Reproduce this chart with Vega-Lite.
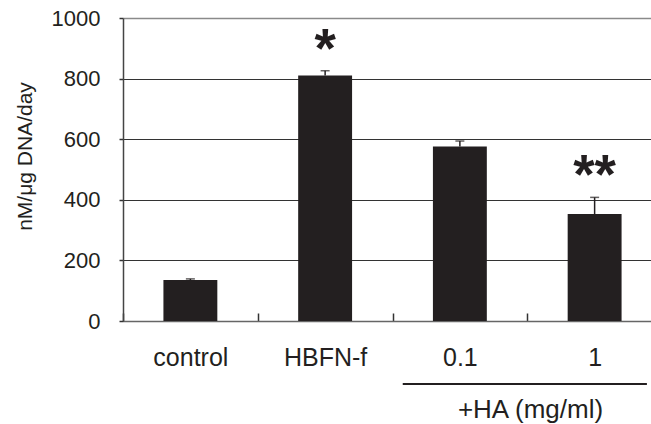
{
  "$schema": "https://vega.github.io/schema/vega-lite/v6.json",
  "width": 528,
  "height": 303,
  "autosize": {"type": "none"},
  "padding": {"left": 123, "top": 18, "right": 0, "bottom": 103},
  "config": {"view": {"stroke": null}, "font": "Liberation Sans"},
  "data": {"values": [
    {"group": "control", "value": 135, "upper": 139, "sig": ""},
    {"group": "HBFN-f", "value": 810, "upper": 826, "sig": "*"},
    {"group": "0.1", "value": 576, "upper": 594, "sig": ""},
    {"group": "1", "value": 353, "upper": 408, "sig": "**"}
  ]},
  "encoding": {
    "x": {
      "field": "group", "type": "nominal",
      "scale": {"domain": ["control", "HBFN-f", "0.1", "1"], "range": [0, 539], "paddingInner": 0.6, "paddingOuter": 0.3},
      "axis": {
        "title": "+HA (mg/ml)", "titleX": 407, "titleY": 96, "titleBaseline": "alphabetic",
        "titleFontSize": 26, "titleFontWeight": "normal", "titleColor": "#231f20",
        "labelAngle": 0, "labelFontSize": 25, "labelColor": "#231f20", "labelBaseline": "alphabetic",
        "labelPadding": 52, "labelOffset": 67.375, "tickOffset": -67.375, "tickSize": -8, "tickColor": "#333333", "tickWidth": 1.5,
        "domainColor": "#666666", "domainWidth": 1.5
      }
    }
  },
  "layer": [
    {
      "mark": {"type": "bar", "color": "#231f20"},
      "encoding": {
        "y": {
          "field": "value", "type": "quantitative",
          "scale": {"domain": [0, 1000], "nice": false},
          "axis": {
            "title": "nM/μg DNA/day", "titleFontSize": 21, "titleFontWeight": "normal", "titleColor": "#231f20",
            "titleX": -98, "titleY": 138, "titleBaseline": "middle",
            "values": [0, 200, 400, 600, 800, 1000], "format": "d",
            "labelFontSize": 22, "labelColor": "#231f20", "labelPadding": 19,
            "tickSize": 4, "tickColor": "#333333", "tickWidth": 1.5,
            "domainColor": "#444444", "domainWidth": 1.5,
            "grid": true,
            "gridColor": {"condition": {"test": "datum.value === 1000", "value": "#8a8a8a"}, "value": "#333333"},
            "gridWidth": {"condition": {"test": "datum.value === 1000", "value": 1.5}, "value": 1}
          }
        }
      }
    },
    {
      "mark": {"type": "rule", "color": "#231f20", "strokeWidth": 1.5},
      "encoding": {
        "y": {"field": "value", "type": "quantitative"},
        "y2": {"field": "upper"}
      }
    },
    {
      "mark": {"type": "tick", "color": "#231f20", "size": 9, "thickness": 1.5, "orient": "horizontal"},
      "encoding": {
        "y": {"field": "upper", "type": "quantitative"}
      }
    },
    {
      "mark": {"type": "text", "color": "#231f20", "fontSize": 55, "fontWeight": "bold", "baseline": "alphabetic", "dy": -4},
      "encoding": {
        "y": {"field": "upper", "type": "quantitative"},
        "text": {"field": "sig"}
      }
    },
    {
      "data": {"values": [{"from": "0.1", "to": "1", "level": -208}]},
      "mark": {"type": "rule", "color": "#231f20", "strokeWidth": 2},
      "encoding": {
        "x": {"field": "from", "type": "nominal", "bandPosition": -0.56},
        "x2": {"field": "to", "bandPosition": 1.47},
        "y": {"field": "level", "type": "quantitative"}
      }
    }
  ]
}
